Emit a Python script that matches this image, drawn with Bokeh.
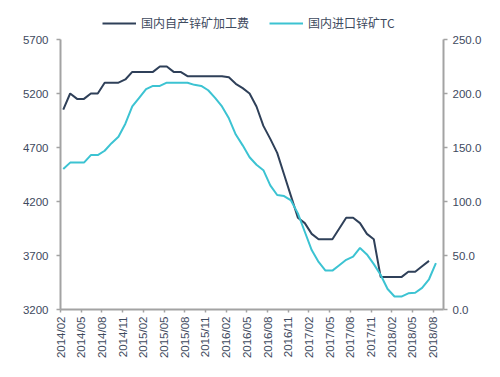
import math
from bokeh.plotting import figure
from bokeh.models import (Range1d, LinearAxis, FixedTicker, NumeralTickFormatter,
                          Legend, LegendItem)
from bokeh.embed import file_html
from bokeh.resources import INLINE

tick_labels = ["2014/02", "2014/05", "2014/08", "2014/11", "2015/02", "2015/05",
               "2015/08", "2015/11", "2016/02", "2016/05", "2016/08", "2016/11",
               "2017/02", "2017/05", "2017/08", "2017/11", "2018/02", "2018/05",
               "2018/08"]

# 国内自产锌矿加工费 (left axis), monthly from 2014/02
domestic = [5050, 5200, 5150, 5150, 5200, 5200, 5300, 5300, 5300, 5330,
            5400, 5400, 5400, 5400, 5450, 5450, 5400, 5400, 5360, 5360,
            5360, 5360, 5360, 5360, 5350, 5290, 5250, 5200, 5080, 4900,
            4780, 4650, 4450, 4250, 4050, 4000, 3900, 3850, 3850, 3850,
            3950, 4050, 4050, 4000, 3900, 3850, 3500, 3500, 3500, 3500,
            3550, 3550, 3600, 3650]

# 国内进口锌矿TC (right axis), monthly from 2014/02
imported = [130, 136, 136, 136, 143, 143, 147, 154, 160, 172,
            188, 196, 204, 207, 207, 210, 210, 210, 210, 208,
            207, 203, 196, 188, 177, 162, 152, 141, 134, 129,
            115, 106, 105, 101, 89, 72, 55, 44, 36, 36,
            41, 46, 49, 57, 51, 42, 32, 19, 12, 12,
            15, 15.5, 20, 28, 43]

left_ticks = [3200, 3700, 4200, 4700, 5200, 5700]
right_ticks = [0, 50, 100, 150, 200, 250]

x_dom = [i + 0.4 for i in range(len(domestic))]
x_imp = [i + 0.4 for i in range(len(imported))]

DARK = "#2f4059"
CYAN = "#3cc3d2"
AXIS = "#a3a3a3"
TXT = "#3e4a5e"

# layout (screen px): data area 270 px tall, frame extended upward to hold the legend
TOP = 4
AXIS_TOP = 39
AXIS_BOTTOM = 309
span = AXIS_BOTTOM - AXIS_TOP
frame_h = AXIS_BOTTOM - TOP
lmin, lmax = left_ticks[0], left_ticks[-1]
rmin, rmax = right_ticks[0], right_ticks[-1]
left_top = lmin + (lmax - lmin) * frame_h / span
right_top = rmin + (rmax - rmin) * frame_h / span

W, H = 484, 361
p = figure(width=W, height=H, output_backend="svg", toolbar_location=None,
           x_range=Range1d(0, 55.5), y_range=Range1d(lmin, left_top),
           min_border_left=60, min_border_right=W - 60 - 384, min_border_top=TOP,
           min_border_bottom=H - AXIS_BOTTOM)
p.outline_line_color = None
p.xgrid.visible = False
p.ygrid.visible = False
p.background_fill_color = "white"

p.extra_y_ranges = {"tc": Range1d(rmin, right_top)}

r1 = p.line(x_dom, domestic, line_color=DARK, line_width=2)
r2 = p.line(x_imp, imported, line_color=CYAN, line_width=2, y_range_name="tc")

# left axis
ya = p.yaxis[0]
ya.ticker = FixedTicker(ticks=left_ticks)
ya.bounds = (lmin, lmax)
ya.minor_tick_line_color = None
ya.major_tick_in = 0
ya.major_tick_out = 4
ya.major_label_standoff = 8

# bottom axis
xa = p.xaxis[0]
xa.ticker = FixedTicker(ticks=[3 * i for i in range(len(tick_labels))])
xa.major_label_overrides = {3 * i: lab for i, lab in enumerate(tick_labels)}
xa.major_label_orientation = math.pi / 2
xa.minor_tick_line_color = None
xa.major_tick_in = 0
xa.major_tick_out = 3
xa.major_label_standoff = 4

# right axis
ra = LinearAxis(y_range_name="tc", ticker=FixedTicker(ticks=right_ticks),
                formatter=NumeralTickFormatter(format="0.0"))
ra.bounds = (rmin, rmax)
ra.minor_tick_line_color = None
ra.major_tick_in = 0
ra.major_tick_out = 4
ra.major_label_standoff = 5
p.add_layout(ra, "right")

for ax in (ya, xa, ra):
    ax.axis_line_color = AXIS
    ax.axis_line_width = 2
    ax.major_tick_line_color = AXIS
    ax.major_tick_line_width = 1.5
    ax.major_label_text_color = TXT
    ax.major_label_text_font = "Liberation Sans"
    ax.major_label_text_font_size = "11.5px"

legend = Legend(items=[LegendItem(label="国内自产锌矿加工费", renderers=[r1]),
                       LegendItem(label="国内进口锌矿TC", renderers=[r2])],
                location=(42, frame_h - 27), orientation="horizontal")
legend.padding = 0
legend.margin = 0
legend.spacing = 20
legend.glyph_width = 34
legend.glyph_height = 16
legend.label_height = 16
legend.label_standoff = 5
legend.border_line_color = None
legend.background_fill_alpha = 0
legend.label_text_font = "Noto Sans CJK SC"
legend.label_text_font_size = "12px"
legend.label_text_color = TXT
p.add_layout(legend)

open("out.html", "w").write(file_html(p, INLINE))
